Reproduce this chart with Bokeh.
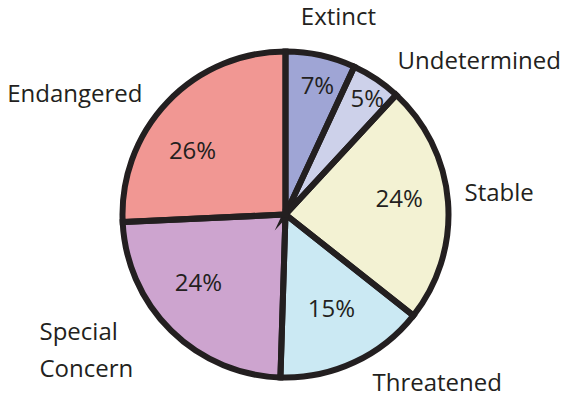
import math
from bokeh.plotting import figure
from bokeh.models import Range1d
from bokeh.core.properties import value
from bokeh.embed import file_html
from bokeh.resources import INLINE

# ---- data ----
categories = ["Extinct", "Undetermined", "Stable", "Threatened", "Special Concern", "Endangered"]
percents = [7, 5, 24, 15, 24, 26]
colors = ["#9fa5d5", "#cdd1ea", "#f3f2d3", "#cbe9f3", "#cda4cf", "#f19793"]

# ---- layout (page px) ----
CX, CY, R = 293, 222, 163
FONT = "Open Sans"
FS = "24px"
INK = "#231f20"
TEXT_DY = 8.5  # compensation: svg text renders lower than the alphabetic anchor
pct_r = [126, 136, 114, 111, 115, 109]
pct_dang = [2.2, 3.1, 0.0, 0.5, 4.6, -12.2]
# outer label anchors: (x, visual baseline y, align)
outer = {
    "Extinct": [(346, 31, "center")],
    "Undetermined": [(405, 75, "left")],
    "Stable": [(472, 207, "left")],
    "Threatened": [(380, 397, "left")],
    "Special Concern": [(47, 346, "left", "Special"), (47, 383, "left", "Concern")],
    "Endangered": [(150, 108, "right")],
}

M = 8
W, H = 579 - 2 * M, 410 - 2 * M
p = figure(width=W, height=H, output_backend="svg", toolbar_location=None,
           x_range=Range1d(M, M + W), y_range=Range1d(-(M + H), -M),
           min_border=0, border_fill_color="white", background_fill_color="white")
p.axis.visible = False
p.grid.visible = False
p.outline_line_color = None

total = sum(percents)
starts, ends, mids = [], [], []
cum = 0.0
for v in percents:
    a0 = cum / total
    cum += v
    a1 = cum / total
    # clockwise from 12 o'clock -> bokeh angles (ccw from +x)
    starts.append(math.pi / 2 - a1 * 2 * math.pi)
    ends.append(math.pi / 2 - a0 * 2 * math.pi)
    mids.append((a0 + a1) / 2 * 360.0)

n = len(percents)
p.wedge(x=[CX] * n, y=[-CY] * n, radius=R, start_angle=starts, end_angle=ends,
        fill_color=colors, line_color=None)
p.wedge(x=[CX] * n, y=[-CY] * n, radius=R, start_angle=starts, end_angle=ends,
        fill_alpha=0, line_color=INK, line_width=6, line_join="miter")

# percent labels
px, py, pt = [], [], []
for i, v in enumerate(percents):
    th = math.radians(mids[i] + pct_dang[i])
    px.append(CX + pct_r[i] * math.sin(th))
    py.append(-(CY - pct_r[i] * math.cos(th) - TEXT_DY))
    pt.append(f"{v}%")
p.text(x=px, y=py, text=pt, text_font=value(FONT), text_font_size=FS,
       text_color=INK, text_align="center", text_baseline="alphabetic")

# category labels
for cat in categories:
    for item in outer[cat]:
        txt = item[3] if len(item) > 3 else cat
        p.text(x=[item[0]], y=[-(item[1] - TEXT_DY)], text=[txt], text_font=value(FONT),
               text_font_size=FS, text_color=INK, text_align=item[2],
               text_baseline="alphabetic")

open("out.html", "w").write(file_html(p, INLINE))
